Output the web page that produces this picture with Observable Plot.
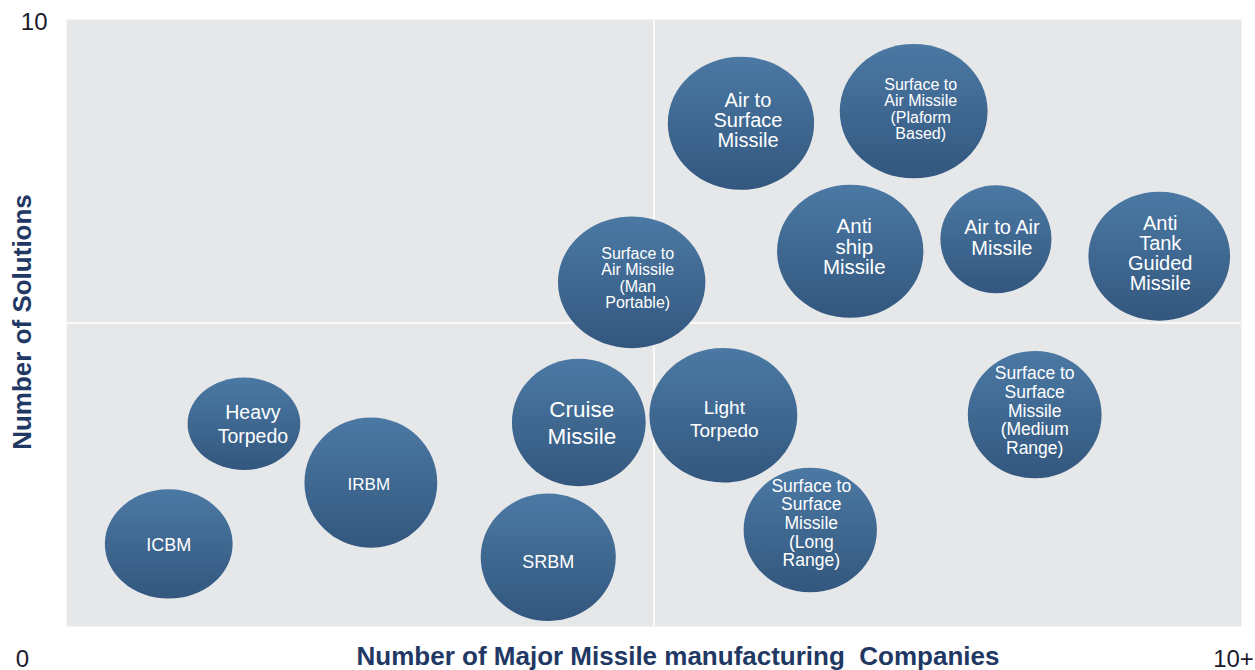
<!DOCTYPE html>
<html><head><meta charset="utf-8">
<script src="https://cdn.jsdelivr.net/npm/d3@7"></script>
<script src="https://cdn.jsdelivr.net/npm/@observablehq/plot@0.6"></script>
<style>body{margin:0;background:#fff;font-family:"Liberation Sans",Arial,sans-serif;}</style>
</head><body><div id="chart"></div>
<script>
// ---- data ----
const missiles = [
  "Air to\nSurface\nMissile",
  "Surface to\nAir Missile\n(Plaform\nBased)",
  "Anti\nship\nMissile",
  "Air to Air\nMissile",
  "Anti\nTank\nGuided\nMissile",
  "Surface to\nAir Missile\n(Man\nPortable)",
  "Heavy\nTorpedo",
  "IRBM",
  "ICBM",
  "Cruise\nMissile",
  "Light\nTorpedo",
  "SRBM",
  "Surface to\nSurface\nMissile\n(Long\nRange)",
  "Surface to\nSurface\nMissile\n(Medium\nRange)"
];
const companies = [5.74, 7.21, 6.67, 7.91, 9.30, 4.81, 1.51, 2.59, 0.87, 4.36, 5.59, 4.10, 6.33, 8.24];
const solutions = [8.29, 8.49, 6.18, 6.38, 6.10, 5.67, 3.34, 2.37, 1.36, 3.36, 3.48, 1.14, 1.59, 3.49];
const bubbleSize = [95, 96, 95, 77, 92, 94, 66, 93, 78, 91, 96, 91, 89, 91];
const bubbleStretch = [1.10, 1.10, 1.10, 1.03, 1.10, 1.12, 1.22, 1.02, 1.17, 1.05, 1.10, 1.06, 1.07, 1.05];
const xTickLabels = ["0", "10+"];
const yTickLabels = ["10"];
const xTitle = "Number of Major Missile manufacturing  Companies";
const yTitle = "Number of Solutions";

const bubbles = missiles.map((label, i) => ({
  label, x: companies[i], y: solutions[i], size: bubbleSize[i], stretch: bubbleStretch[i]
}));

// ---- label styles (font size, line height, nudge), same order as missiles ----
const labelStyle = [
  {fontSize: 20, lineHeight: 1.0, dx: 7, dy: -3},
  {fontSize: 16, lineHeight: 1.02, dx: 7, dy: -2},
  {fontSize: 20.5, lineHeight: 1.0, dx: 4, dy: -4},
  {fontSize: 20, lineHeight: 1.05, dx: 6, dy: -1},
  {fontSize: 20, lineHeight: 1.0, dx: 1, dy: -3},
  {fontSize: 16, lineHeight: 1.02, dx: 6, dy: -4},
  {fontSize: 19.5, lineHeight: 1.23, dx: 9, dy: 0},
  {fontSize: 17, lineHeight: 1, dx: -2, dy: 2},
  {fontSize: 18, lineHeight: 1, dx: 0, dy: 1},
  {fontSize: 22.5, lineHeight: 1.2, dx: 3, dy: -1},
  {fontSize: 19, lineHeight: 1.21, dx: 1, dy: 3},
  {fontSize: 18, lineHeight: 1, dx: 0, dy: 5},
  {fontSize: 17.5, lineHeight: 1.07, dx: 1, dy: -7},
  {fontSize: 17.5, lineHeight: 1.07, dx: 0, dy: -4}
];

function ellipseSymbol(stretch) {
  return {
    draw(context, size) {
      const ry = Math.sqrt(size / Math.PI), rx = ry * stretch, k = 0.5523;
      context.moveTo(rx, 0);
      context.bezierCurveTo(rx, ry * k, rx * k, ry, 0, ry);
      context.bezierCurveTo(-rx * k, ry, -rx, ry * k, -rx, 0);
      context.bezierCurveTo(-rx, -ry * k, -rx * k, -ry, 0, -ry);
      context.bezierCurveTo(rx * k, -ry, rx, -ry * k, rx, 0);
      context.closePath();
    }
  };
}

const gradientDefs = () => {
  const defs = d3.create("svg:defs");
  const g = defs.append("linearGradient").attr("id", "bubbleFill")
    .attr("x1", 0).attr("y1", 0).attr("x2", 0).attr("y2", 1);
  g.append("stop").attr("offset", "0%").attr("stop-color", "#4b79a4");
  g.append("stop").attr("offset", "100%").attr("stop-color", "#33577e");
  return defs.node();
};

const titleColor = "#1f3864";
const tickColor = "#1a1a2a";
const font = "'Liberation Sans', Arial, sans-serif";

const chart = Plot.plot({
  width: 1255,
  height: 670,
  marginLeft: 66,
  marginRight: 14,
  marginTop: 19,
  marginBottom: 44,
  style: {fontFamily: font, background: "#ffffff", overflow: "visible"},
  x: {domain: [0, 10], axis: null},
  y: {domain: [0, 10], axis: null},
  r: {type: "linear", domain: [0, 100], range: [0, 70]},
  marks: [
    gradientDefs,
    Plot.frame({fill: "#e6e7e9", stroke: "none"}),
    Plot.ruleX([5], {stroke: "#ffffff", strokeWidth: 1.5}),
    Plot.ruleY([5], {stroke: "#ffffff", strokeWidth: 1.5}),
    ...bubbles.map(d => Plot.dot([d], {
      x: "x", y: "y", r: "size", symbol: ellipseSymbol(d.stretch),
      fill: "url(#bubbleFill)", stroke: "none"
    })),
    ...bubbles.map((d, i) => Plot.text([d], {
      x: "x", y: "y", text: "label", fill: "#ffffff", fontFamily: font,
      ...labelStyle[i]
    })),
    Plot.text(yTickLabels, {x: 0, y: 10, text: d => d, dx: -19, dy: 3, textAnchor: "end", fontSize: 24, fill: tickColor}),
    Plot.text([xTickLabels[0]], {x: 0, y: 0, text: d => d, dx: -44, dy: 33, fontSize: 24, fill: tickColor}),
    Plot.text([xTickLabels[1]], {x: 10, y: 0, text: d => d, dx: -8, dy: 33, fontSize: 24, fill: tickColor}),
    Plot.text([xTitle], {text: d => d, frameAnchor: "bottom", dx: 24, dy: 38, fontSize: 26,
      fontWeight: "bold", fill: titleColor}),
    Plot.text([yTitle], {text: d => d, frameAnchor: "left", textAnchor: "middle", dx: -44, dy: -1, rotate: -90,
      fontSize: 26, fontWeight: "bold", fill: titleColor})
  ]
});
document.getElementById("chart").appendChild(chart);
</script>
</body></html>
